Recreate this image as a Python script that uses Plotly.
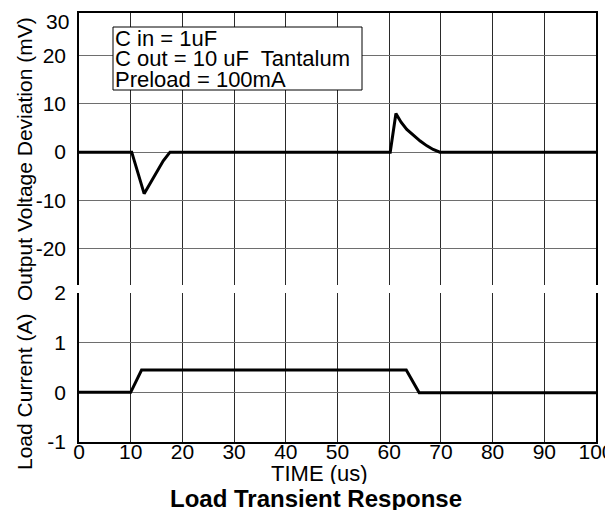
import plotly.graph_objects as go

# ---- data ----
t_volt = [0, 10.2, 12.6, 13.8, 15.0, 16.3, 17.6, 60.2, 61.3, 62.3, 63.4, 64.7, 66.0, 67.3, 68.5, 69.8, 100]
v_dev = [0, 0, -8.6, -6.4, -4.1, -1.8, 0, 0, 8.0, 6.2, 4.7, 3.4, 2.3, 1.3, 0.55, 0, 0]

t_curr = [0, 10, 12.1, 63.3, 65.8, 100]
i_load = [0, 0, 0.45, 0.45, -0.01, -0.01]

x_ticks = [0, 10, 20, 30, 40, 50, 60, 70, 80, 90, 100]
v_ticks = [-20, -10, 0, 10, 20]
v_labels = ["-20", "-10", "0", "10", "20"]
i_ticks = [-1, 0, 1, 2]
i_labels = ["-1", "0", "1", "2"]

notes = ["C in = 1uF", "C out = 10 uF  Tantalum", "Preload = 100mA"]

FONT = "Liberation Sans, Arial, sans-serif"
OFF = 8  # page body margin
W, H = 613 - OFF, 510 - OFF
L, R, T, B = 79 - OFF, 17, 13 - OFF, 68
PW, PH = W - L - R, H - T - B


def px(xp):
    return (xp - OFF - L) / PW


def py(yp):
    return (H - B - (yp - OFF)) / PH


fig = go.Figure()
fig.add_trace(go.Scatter(x=t_volt, y=v_dev, mode="lines", xaxis="x2", yaxis="y2",
                         line=dict(color="black", width=3), showlegend=False))
fig.add_trace(go.Scatter(x=t_curr, y=i_load, mode="lines", xaxis="x", yaxis="y",
                         line=dict(color="black", width=3), showlegend=False))

grid_v = "#2a2a2a"
grid_h = "#6e6e6e"

fig.update_layout(
    width=W, height=H,
    margin=dict(l=L, r=R, t=T, b=B, autoexpand=False),
    paper_bgcolor="white", plot_bgcolor="white",
    font=dict(family=FONT, size=21, color="black"),
    xaxis=dict(domain=[0, 1], anchor="y", range=[0, 100], tickvals=x_ticks,
               showgrid=True, gridcolor=grid_v, gridwidth=1.2, zeroline=False,
               showline=True, linecolor="black", linewidth=1.5, mirror=False,
               ticks="", ticklabelstandoff=-10, ticklabeloverflow="allow",
               tickfont=dict(size=21), automargin=False),
    yaxis=dict(domain=[0, py(293)], anchor="x", range=[-1, 2], tickvals=i_ticks,
               ticktext=i_labels,
               showgrid=True, gridcolor=grid_h, gridwidth=1.2, zeroline=False,
               showline=True, linecolor="black", linewidth=1.5, mirror=True,
               ticks="", ticklabelstandoff=7, tickfont=dict(size=21), automargin=False),
    xaxis2=dict(domain=[0, 1], anchor="y2", range=[0, 100], tickvals=x_ticks,
                showticklabels=False, side="top",
                showgrid=True, gridcolor=grid_v, gridwidth=1.2, zeroline=False,
                showline=True, linecolor="black", linewidth=1.5, ticks="", automargin=False),
    yaxis2=dict(domain=[py(285), 1], anchor="x2", range=[-27.5, 28.8], tickvals=v_ticks,
                ticktext=v_labels,
                showgrid=True, gridcolor=grid_h, gridwidth=1.2, zeroline=False,
                showline=True, linecolor="black", linewidth=1.5, mirror=True,
                ticks="", ticklabelstandoff=7, tickfont=dict(size=21), automargin=False),
)

# note box
fig.add_shape(type="rect", xref="paper", yref="paper",
              x0=px(113), x1=px(362), y0=py(90), y1=py(27),
              fillcolor="white", line=dict(color="black", width=1), layer="above")
for txt, yc in zip(notes, [37.5, 58, 79]):
    fig.add_annotation(text=txt, xref="paper", yref="paper", x=px(114), y=py(yc),
                       xanchor="left", yanchor="middle", showarrow=False,
                       font=dict(size=22), borderpad=0, height=20, valign="middle")

# extra tick label "30" at top of voltage axis
fig.add_annotation(text="30", xref="paper", yref="paper", x=px(71), y=py(22),
                   xanchor="right", yanchor="middle", showarrow=False, font=dict(size=21))

# axis titles
fig.add_annotation(text="Output Voltage Deviation (mV)", xref="paper", yref="paper",
                   x=px(24), y=py(159), textangle=-90, showarrow=False,
                   xanchor="center", yanchor="middle", font=dict(size=21))
fig.add_annotation(text="Load Current (A)", xref="paper", yref="paper",
                   x=px(24), y=py(392), textangle=-90, showarrow=False,
                   xanchor="center", yanchor="middle", font=dict(size=21))
fig.add_annotation(text="TIME (us)", xref="paper", yref="paper",
                   x=px(319), y=py(473), showarrow=False,
                   xanchor="center", yanchor="middle", font=dict(size=22),
                   height=21, valign="middle")
fig.add_annotation(text="<b>Load Transient Response</b>", xref="paper", yref="paper",
                   x=px(316), y=py(498), showarrow=False,
                   xanchor="center", yanchor="middle", font=dict(size=24),
                   height=24, valign="middle")

fig.write_html("out.html")
